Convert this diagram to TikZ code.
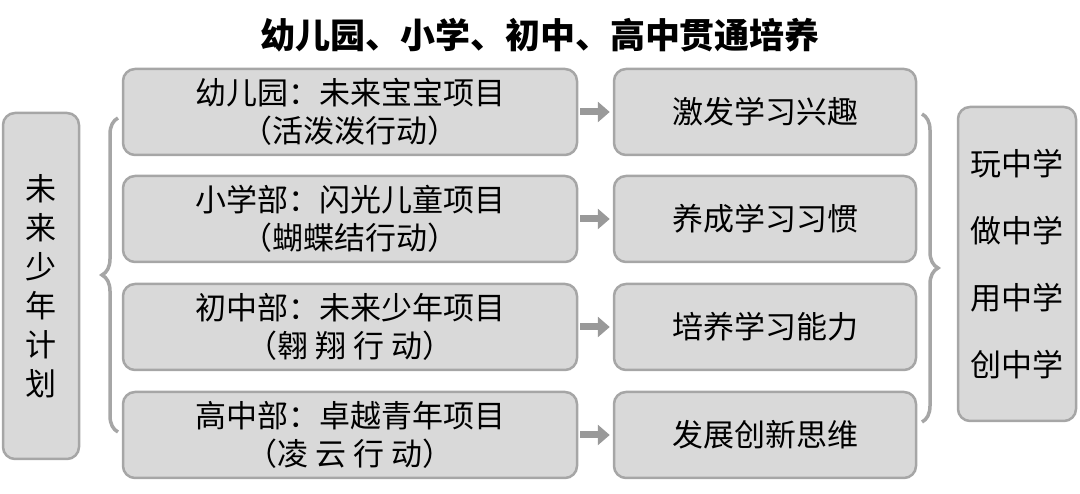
\documentclass[tikz,border=0pt]{standalone}
\usepackage{fontspec}
\newfontfamily\cjk{Noto Sans CJK SC}
\usetikzlibrary{decorations.pathreplacing,arrows.meta}
\begin{document}
\begin{tikzpicture}[x=1pt,y=1pt,
  box/.style={draw=gray!70,line width=2.5pt,fill=gray!30,rounded corners=12pt,inner sep=0pt,align=center,font=\cjk\fontsize{31}{38}\selectfont},
  arr/.style={-{Triangle[length=12pt,width=20pt]},line width=7pt,gray!80},
  br/.style={decorate,decoration={brace,amplitude=16pt},line width=3.5pt,gray!70}]
\useasboundingbox (0,0) rectangle (1080,494);
\node[font=\cjk\bfseries\fontsize{35}{40}\selectfont] (title) at (540,459) {幼儿园、小学、初中、高中贯通培养};
\node[box,minimum width=76pt,minimum height=346pt,font=\cjk\fontsize{31}{39}\selectfont] (L) at (41,208) {未\\来\\少\\年\\计\\划};
\node[box,minimum width=118pt,minimum height=314pt,font=\cjk\fontsize{31}{67}\selectfont] (R) at (1017,230) {玩中学\\做中学\\用中学\\创中学};
\foreach \i/\y/\a/\b/\c in {1/382/幼儿园：未来宝宝项目/（活泼泼行动）/激发学习兴趣,
  2/275/小学部：闪光儿童项目/（蝴蝶结行动）/养成学习习惯,
  3/167/初中部：未来少年项目/（翱 翔 行 动）/培养学习能力,
  4/59/高中部：卓越青年项目/（凌 云 行 动）/发展创新思维}{
  \node[box,minimum width=454pt,minimum height=86pt] (a\i) at (350,\y) {\a\\\b};
  \node[box,minimum width=302pt,minimum height=86pt] (b\i) at (765,\y) {\c};
  \draw[arr] (a\i.east) ++(2pt,0) coordinate (s\i) -- ([xshift=-3pt]b\i.west);
}
\coordinate (lb1) at (118,62); \coordinate (lb2) at (118,376);
\draw[br] (lb1) -- (lb2);
\coordinate (rb1) at (922,380); \coordinate (rb2) at (922,72);
\draw[br] (rb1) -- (rb2);
\end{tikzpicture}
\end{document}
